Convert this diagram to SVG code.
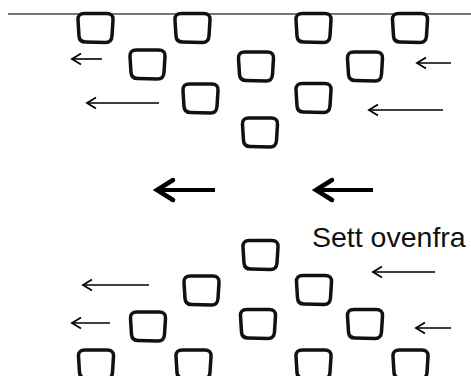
<svg xmlns="http://www.w3.org/2000/svg" width="471" height="376" viewBox="0 0 471 376">
<style>
.box{fill:none;stroke:#111;stroke-width:3.5;stroke-linejoin:round}
.thin{fill:none;stroke:#000;stroke-width:1.6}
.thick{fill:none;stroke:#000;stroke-width:4;stroke-linecap:butt}
.lbl{font-family:"Liberation Sans",Arial,sans-serif;font-size:28.5px;fill:#111}
</style>
<defs>
<path id="b" class="box" d="M -11,-14.5 L 11,-14.5 Q 18,-14.5 17.5,-8 L 16.5,8 Q 16,14.5 10,14.5 L -10,14 Q -16,14 -16.5,8 L -17.5,-8 Q -18,-14.5 -11,-14.5 Z"/>
<marker id="ah" viewBox="-11 -7 13 14" markerWidth="13" markerHeight="14" refX="0" refY="0" orient="auto" markerUnits="userSpaceOnUse" overflow="visible">
<path d="M -9,-5.5 L 0,0 L -9,5.5" fill="none" stroke="#000" stroke-width="1.8" stroke-linejoin="miter"/>
</marker>
<marker id="ahb" viewBox="-24 -14 27 28" markerWidth="27" markerHeight="28" refX="0" refY="0" orient="auto" markerUnits="userSpaceOnUse" overflow="visible">
<path d="M -17,-10 L -1,0 L -17,10" fill="none" stroke="#000" stroke-width="4.5" stroke-linecap="round" stroke-linejoin="miter"/>
</marker>
</defs>
<rect width="471" height="376" fill="#fff"/>
<line x1="8" y1="14" x2="471" y2="14" stroke="#777" stroke-width="2"/>
<g id="top-row1">
<use href="#b" x="95.5" y="28"/>
<use href="#b" x="192.5" y="28"/>
<use href="#b" x="313.5" y="28"/>
<use href="#b" x="410" y="28"/>
</g>
<g id="top-row2">
<use href="#b" x="147.5" y="64.5"/>
<use href="#b" x="256" y="66.5"/>
<use href="#b" x="365" y="66.5"/>
</g>
<g id="top-row3">
<use href="#b" x="200.5" y="98.5"/>
<use href="#b" x="313.5" y="98"/>
</g>
<g id="top-row4">
<use href="#b" x="260" y="132.5"/>
</g>
<g id="bot-row1">
<use href="#b" x="260.5" y="255"/>
</g>
<g id="bot-row2">
<use href="#b" x="201.5" y="290.5"/>
<use href="#b" x="314" y="290"/>
</g>
<g id="bot-row3">
<use href="#b" x="148" y="326.5"/>
<use href="#b" x="258" y="324"/>
<use href="#b" x="365" y="324"/>
</g>
<g id="bot-row4">
<use href="#b" x="96" y="364.5"/>
<use href="#b" x="193.5" y="364.5"/>
<use href="#b" x="313.5" y="364.5"/>
<use href="#b" x="410.5" y="364.5"/>
</g>
<g id="connectors">
<line class="thin" x1="102" y1="59" x2="72" y2="59" marker-end="url(#ah)"/>
<line class="thin" x1="451" y1="63" x2="417" y2="63" marker-end="url(#ah)"/>
<line class="thin" x1="159" y1="103" x2="87" y2="103" marker-end="url(#ah)"/>
<line class="thin" x1="443" y1="110" x2="369" y2="110" marker-end="url(#ah)"/>
<line class="thick" x1="215" y1="190" x2="156" y2="190" marker-end="url(#ahb)"/>
<line class="thick" x1="373" y1="190" x2="315" y2="190" marker-end="url(#ahb)"/>
<line class="thin" x1="435" y1="272" x2="373" y2="272" marker-end="url(#ah)"/>
<line class="thin" x1="149" y1="285" x2="83" y2="285" marker-end="url(#ah)"/>
<line class="thin" x1="110" y1="323" x2="72" y2="323" marker-end="url(#ah)"/>
<line class="thin" x1="451" y1="328" x2="416" y2="328" marker-end="url(#ah)"/>
</g>
<text class="lbl" x="312" y="247">Sett ovenfra</text>
</svg>
